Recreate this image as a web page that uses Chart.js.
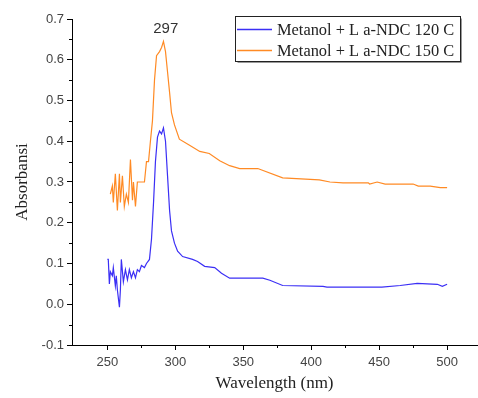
<!DOCTYPE html>
<html>
<head>
<meta charset="utf-8">
<script src="https://cdn.jsdelivr.net/npm/chart.js@4.4.1/dist/chart.umd.min.js"></script>
<style>
	html, body { margin: 0; padding: 0; background: #fff; }
	#wrap { width: 478px; height: 398px; }
</style>
</head>
<body>
<div id="wrap"><canvas id="uvChart"></canvas></div>
<script>
const seriesLabels = ["Metanol + L a-NDC 120 C", "Metanol + L a-NDC 150 C"];

const wl120 = [250, 250.7, 251.5, 252.2, 253.7, 254.4, 255.9, 256.6, 257.4, 258.9, 259.6, 260.3, 261.8, 263.3,
	264.8, 266.2, 267.7, 269.2, 270.7, 272.1, 273.6, 275.1, 277.3, 278.8, 281, 282.5, 284, 285.4, 286.9,
	288.4, 289.9, 291.3, 292.8, 294.3, 295.8, 297.2, 299.4, 301.7, 305.4, 312.7, 316.4, 321.6, 329, 334,
	340, 364.4, 369.6, 379, 408.7, 411.6, 452, 465.5, 478, 492.8, 496.5, 500];
const abs120 = [0.11, 0.11, 0.05, 0.08, 0.07, 0.09, 0.045, 0.07, 0.035, -0.007, 0.035, 0.11, 0.055, 0.085,
	0.06, 0.085, 0.065, 0.08, 0.065, 0.085, 0.08, 0.095, 0.09, 0.1, 0.11, 0.16, 0.25, 0.35, 0.41,
	0.425, 0.418, 0.433, 0.4, 0.315, 0.23, 0.18, 0.15, 0.13, 0.117, 0.11, 0.105, 0.093, 0.09, 0.076,
	0.064, 0.064, 0.059, 0.046, 0.044, 0.042, 0.042, 0.046, 0.051, 0.049, 0.044, 0.049];

const wl150 = [252.2, 253.7, 254.4, 255.9, 257.4, 258.9, 259.6, 261.1, 262.5, 264, 265.5, 267, 268.5, 269.2,
	270.7, 272.1, 274.4, 277.3, 278.8, 280.3, 281.7, 283.2, 284.7, 286.2, 288.4, 289.9, 291.3, 292.8,
	294.3, 295.8, 297.2, 299.4, 303, 310.5, 318, 325, 332.7, 340, 347.4, 360.7, 379, 406, 413.8, 423.4,
	442, 443, 448.5, 454.4, 475, 478.8, 487.6, 495, 500];
const abs150 = [0.27, 0.29, 0.25, 0.32, 0.23, 0.32, 0.25, 0.315, 0.24, 0.27, 0.25, 0.355, 0.255, 0.3,
	0.24, 0.3, 0.3, 0.3, 0.35, 0.35, 0.4, 0.45, 0.55, 0.61, 0.62, 0.63, 0.645, 0.62,
	0.57, 0.52, 0.47, 0.44, 0.405, 0.39, 0.375, 0.37, 0.352, 0.34, 0.333, 0.333, 0.31, 0.305, 0.3, 0.298,
	0.298, 0.295, 0.3, 0.295, 0.295, 0.29, 0.29, 0.286, 0.286];

const xTicks = [250, 300, 350, 400, 450, 500];
const xMinor = [275, 325, 375, 425, 475, 525];
const yTicks = [-0.1, 0, 0.1, 0.2, 0.3, 0.4, 0.5, 0.6, 0.7];
const yMinor = [-0.05, 0.05, 0.15, 0.25, 0.35, 0.45, 0.55, 0.65];

const peakLabel = { x: 293, y: 0.675, text: "297" };

const colors = ["#3b2ff5", "#ff8a24"];

const serif = "'Liberation Serif', 'Times New Roman', serif";
const sans = "'Liberation Sans', Arial, sans-serif";

const toPoints = (xs, ys) => xs.map((x, i) => ({ x: x, y: ys[i] }));

const extras = {
	id: "extras",
	afterDraw(chart) {
		const { ctx, scales: { x, y } } = chart;
		ctx.save();
		// minor ticks
		ctx.strokeStyle = "#000";
		ctx.lineWidth = 1;
		ctx.beginPath();
		xMinor.forEach(v => {
			const px = Math.round(x.getPixelForValue(v)) + 0.5;
			if (px > x.right) return;
			ctx.moveTo(px, y.bottom);
			ctx.lineTo(px, y.bottom + 3);
		});
		yMinor.forEach(v => {
			const py = Math.round(y.getPixelForValue(v)) + 0.5;
			ctx.moveTo(x.left, py);
			ctx.lineTo(x.left - 3, py);
		});
		ctx.stroke();

		// peak label
		ctx.fillStyle = "#333";
		ctx.font = "15px " + sans;
		ctx.textAlign = "center";
		ctx.textBaseline = "middle";
		ctx.fillText(peakLabel.text, x.getPixelForValue(peakLabel.x), y.getPixelForValue(peakLabel.y));

		// legend box
		const bx = 235.5, by = 16.5, bw = 225, bh = 45;
		ctx.fillStyle = "#fff";
		ctx.fillRect(bx, by, bw, bh);
		ctx.strokeStyle = "#999";
		ctx.beginPath();
		ctx.moveTo(bx + 2, by + bh + 1);
		ctx.lineTo(bx + bw + 1, by + bh + 1);
		ctx.lineTo(bx + bw + 1, by + 2);
		ctx.stroke();
		ctx.strokeStyle = "#222";
		ctx.strokeRect(bx, by, bw, bh);
		ctx.font = "16.4px " + serif;
		ctx.textAlign = "left";
		chart.data.datasets.forEach((ds, i) => {
			const ly = 29.5 + i * 21;
			ctx.strokeStyle = ds.borderColor;
			ctx.lineWidth = 1.3;
			ctx.beginPath();
			ctx.moveTo(237, ly);
			ctx.lineTo(272, ly);
			ctx.stroke();
			ctx.fillStyle = "#222";
			ctx.fillText(ds.label, 277, ly + 1);
		});
		ctx.restore();
	}
};

new Chart(document.getElementById("uvChart"), {
	type: "line",
	data: {
		datasets: [
			{ label: seriesLabels[0], data: toPoints(wl120, abs120), borderColor: colors[0] },
			{ label: seriesLabels[1], data: toPoints(wl150, abs150), borderColor: colors[1] },
		],
	},
	options: {
		responsive: true,
		maintainAspectRatio: false,
		animation: false,
		layout: { padding: { top: 19, right: 1, bottom: 0, left: 0 } },
		elements: {
			point: { radius: 0 },
			line: { borderWidth: 1.2, tension: 0, fill: false },
		},
		plugins: { legend: { display: false }, tooltip: { enabled: false } },
		scales: {
			x: {
				type: "linear",
				min: 224,
				max: 522,
				afterBuildTicks: s => { s.ticks = xTicks.map(v => ({ value: v })); },
				afterFit: s => { s.height = 53; },
				border: { display: true, color: "#000", width: 1 },
				grid: { drawOnChartArea: false, drawTicks: true, tickLength: 5, color: "#000" },
				ticks: {
					color: "#444",
					padding: 5,
					maxRotation: 0,
					font: { family: sans, size: 13 },
				},
				title: {
					display: true,
					text: "Wavelength (nm)",
					color: "#222",
					padding: { top: 0, bottom: 4 },
					font: { family: serif, size: 17 },
				},
			},
			y: {
				min: -0.1,
				max: 0.7,
				afterBuildTicks: s => { s.ticks = yTicks.map(v => ({ value: v })); },
				afterFit: s => { s.width = 72; },
				border: { display: true, color: "#000", width: 1 },
				grid: { drawOnChartArea: false, drawTicks: true, tickLength: 5, color: "#000" },
				ticks: {
					color: "#444",
					padding: 3,
					font: { family: sans, size: 13 },
					callback: v => v.toFixed(1),
				},
				title: {
					display: true,
					text: "Absorbansi",
					color: "#222",
					padding: { top: 12, bottom: 0 },
					font: { family: serif, size: 17 },
				},
			},
		},
	},
	plugins: [extras],
});
</script>
</body>
</html>
